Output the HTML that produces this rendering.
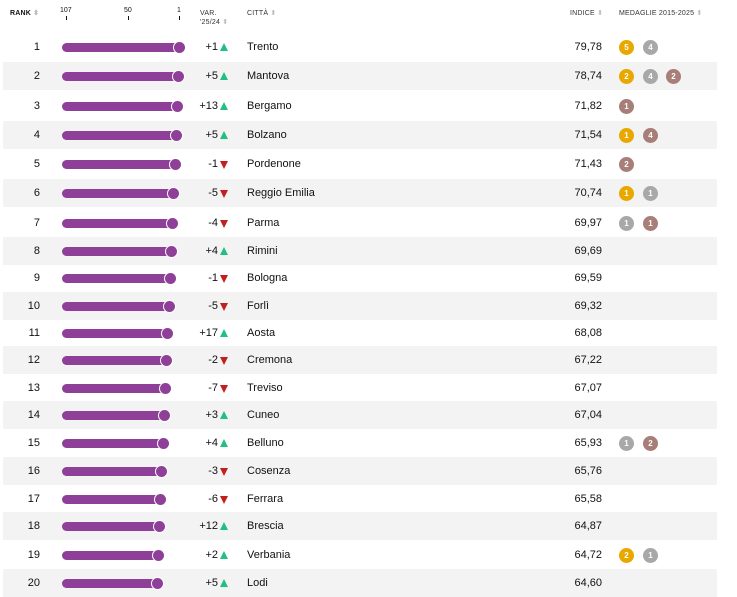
<!DOCTYPE html>
<html><head><meta charset="utf-8"><style>
body{margin:0;width:737px;height:596px;background:#fff;font-family:"Liberation Sans",sans-serif;color:#111;position:relative;overflow:hidden}
.a{position:absolute}
.h{position:absolute;font-size:7px;color:#333;top:9px;letter-spacing:.2px}
.s{color:#bbb;font-size:7px}
.r{position:absolute;left:0;width:737px;height:28px}
.st{position:absolute;left:3px;width:714px;height:28px;background:#f3f3f3}
.rk{position:absolute;right:697px;font-size:11px;top:8px}
.bar{position:absolute;left:62px;height:9px;top:10px;background:#8e3f97;border-radius:5px}
.dot{position:absolute;width:11px;height:11px;border-radius:50%;background:#8e3f97;top:9px;box-shadow:0 0 0 1px #fff}
.v{position:absolute;right:519px;font-size:11px;top:8px}
.up,.dn{position:absolute;left:220px;top:10px;width:0;height:0;border-left:4px solid transparent;border-right:4px solid transparent}
.up{border-bottom:8px solid #20c080}
.dn{border-top:8px solid #c0201e;top:11px}
.c{position:absolute;left:247px;font-size:11px;top:8px}
.i{position:absolute;right:135px;font-size:11px;top:8px}
.m{position:absolute;width:15px;height:15px;border-radius:50%;top:7px;color:#fff;font-size:8px;font-weight:bold;text-align:center;line-height:15px}
.g{background:#e8a800}.sv{background:#a8a8a8}.b{background:#a87e78}
</style></head><body>
<div class="h" style="left:10px;font-weight:bold;color:#111">RANK <span class="s">⬍</span></div>
<div class="a" style="left:60px;top:7px;font-size:7px">107</div>
<div class="a" style="left:124px;top:7px;font-size:7px">50</div>
<div class="a" style="left:177px;top:7px;font-size:7px">1</div>
<div class="a" style="left:66px;top:16px;width:1px;height:4px;background:#111"></div>
<div class="a" style="left:128px;top:16px;width:1px;height:4px;background:#111"></div>
<div class="a" style="left:179px;top:16px;width:1px;height:4px;background:#111"></div>
<div class="h" style="left:200px;line-height:9px">VAR.<br>'25/24 <span class="s">⬍</span></div>
<div class="h" style="left:247px">CITTÀ <span class="s">⬍</span></div>
<div class="h" style="left:570px">INDICE <span class="s">⬍</span></div>
<div class="h" style="left:619px">MEDAGLIE 2015-2025 <span class="s">⬍</span></div>

<div class="r" style="top:33px"><div class="rk">1</div><div class="bar" style="width:117px"></div><div class="dot" style="left:174px"></div><div class="v">+1</div><div class="up"></div><div class="c">Trento</div><div class="i">79,78</div><div class="m g" style="left:619px">5</div><div class="m sv" style="left:643px">4</div></div>
<div class="r" style="top:62px"><div class="st"></div><div class="rk">2</div><div class="bar" style="width:116px"></div><div class="dot" style="left:173px"></div><div class="v">+5</div><div class="up"></div><div class="c">Mantova</div><div class="i">78,74</div><div class="m g" style="left:619px">2</div><div class="m sv" style="left:643px">4</div><div class="m b" style="left:666px">2</div></div>
<div class="r" style="top:92px"><div class="rk">3</div><div class="bar" style="width:115px"></div><div class="dot" style="left:172px"></div><div class="v">+13</div><div class="up"></div><div class="c">Bergamo</div><div class="i">71,82</div><div class="m b" style="left:619px">1</div></div>
<div class="r" style="top:121px"><div class="st"></div><div class="rk">4</div><div class="bar" style="width:114px"></div><div class="dot" style="left:171px"></div><div class="v">+5</div><div class="up"></div><div class="c">Bolzano</div><div class="i">71,54</div><div class="m g" style="left:619px">1</div><div class="m b" style="left:643px">4</div></div>
<div class="r" style="top:150px"><div class="rk">5</div><div class="bar" style="width:113px"></div><div class="dot" style="left:170px"></div><div class="v">-1</div><div class="dn"></div><div class="c">Pordenone</div><div class="i">71,43</div><div class="m b" style="left:619px">2</div></div>
<div class="r" style="top:179px"><div class="st"></div><div class="rk">6</div><div class="bar" style="width:111px"></div><div class="dot" style="left:168px"></div><div class="v">-5</div><div class="dn"></div><div class="c">Reggio Emilia</div><div class="i">70,74</div><div class="m g" style="left:619px">1</div><div class="m sv" style="left:643px">1</div></div>
<div class="r" style="top:209px"><div class="rk">7</div><div class="bar" style="width:110px"></div><div class="dot" style="left:167px"></div><div class="v">-4</div><div class="dn"></div><div class="c">Parma</div><div class="i">69,97</div><div class="m sv" style="left:619px">1</div><div class="m b" style="left:643px">1</div></div>
<div class="r" style="top:237px"><div class="st"></div><div class="rk">8</div><div class="bar" style="width:109px"></div><div class="dot" style="left:166px"></div><div class="v">+4</div><div class="up"></div><div class="c">Rimini</div><div class="i">69,69</div></div>
<div class="r" style="top:264px"><div class="rk">9</div><div class="bar" style="width:108px"></div><div class="dot" style="left:165px"></div><div class="v">-1</div><div class="dn"></div><div class="c">Bologna</div><div class="i">69,59</div></div>
<div class="r" style="top:292px"><div class="st"></div><div class="rk">10</div><div class="bar" style="width:107px"></div><div class="dot" style="left:164px"></div><div class="v">-5</div><div class="dn"></div><div class="c">Forlì</div><div class="i">69,32</div></div>
<div class="r" style="top:319px"><div class="rk">11</div><div class="bar" style="width:105px"></div><div class="dot" style="left:162px"></div><div class="v">+17</div><div class="up"></div><div class="c">Aosta</div><div class="i">68,08</div></div>
<div class="r" style="top:346px"><div class="st"></div><div class="rk">12</div><div class="bar" style="width:104px"></div><div class="dot" style="left:161px"></div><div class="v">-2</div><div class="dn"></div><div class="c">Cremona</div><div class="i">67,22</div></div>
<div class="r" style="top:374px"><div class="rk">13</div><div class="bar" style="width:103px"></div><div class="dot" style="left:160px"></div><div class="v">-7</div><div class="dn"></div><div class="c">Treviso</div><div class="i">67,07</div></div>
<div class="r" style="top:401px"><div class="st"></div><div class="rk">14</div><div class="bar" style="width:102px"></div><div class="dot" style="left:159px"></div><div class="v">+3</div><div class="up"></div><div class="c">Cuneo</div><div class="i">67,04</div></div>
<div class="r" style="top:429px"><div class="rk">15</div><div class="bar" style="width:101px"></div><div class="dot" style="left:158px"></div><div class="v">+4</div><div class="up"></div><div class="c">Belluno</div><div class="i">65,93</div><div class="m sv" style="left:619px">1</div><div class="m b" style="left:643px">2</div></div>
<div class="r" style="top:457px"><div class="st"></div><div class="rk">16</div><div class="bar" style="width:99px"></div><div class="dot" style="left:156px"></div><div class="v">-3</div><div class="dn"></div><div class="c">Cosenza</div><div class="i">65,76</div></div>
<div class="r" style="top:485px"><div class="rk">17</div><div class="bar" style="width:98px"></div><div class="dot" style="left:155px"></div><div class="v">-6</div><div class="dn"></div><div class="c">Ferrara</div><div class="i">65,58</div></div>
<div class="r" style="top:512px"><div class="st"></div><div class="rk">18</div><div class="bar" style="width:97px"></div><div class="dot" style="left:154px"></div><div class="v">+12</div><div class="up"></div><div class="c">Brescia</div><div class="i">64,87</div></div>
<div class="r" style="top:541px"><div class="rk">19</div><div class="bar" style="width:96px"></div><div class="dot" style="left:153px"></div><div class="v">+2</div><div class="up"></div><div class="c">Verbania</div><div class="i">64,72</div><div class="m g" style="left:619px">2</div><div class="m sv" style="left:643px">1</div></div>
<div class="r" style="top:569px"><div class="st"></div><div class="rk">20</div><div class="bar" style="width:95px"></div><div class="dot" style="left:152px"></div><div class="v">+5</div><div class="up"></div><div class="c">Lodi</div><div class="i">64,60</div></div>
</body></html>
